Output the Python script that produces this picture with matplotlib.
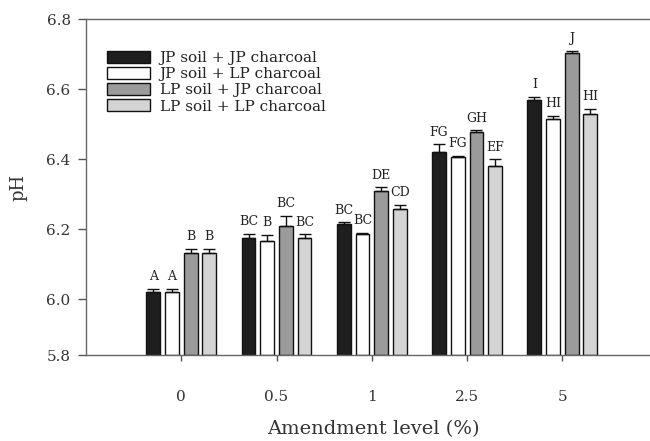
import matplotlib.pyplot as plt
import numpy as np

plt.rcParams['font.family'] = ['DejaVu Serif']

levels = ['0', '0.5', '1', '2.5', '5']
series = ['JP soil + JP charcoal', 'JP soil + LP charcoal',
          'LP soil + JP charcoal', 'LP soil + LP charcoal']

jp_jp = [6.020, 6.174, 6.214, 6.421, 6.571]
jp_lp = [6.020, 6.166, 6.186, 6.408, 6.514]
lp_jp = [6.133, 6.210, 6.310, 6.477, 6.705]
lp_lp = [6.133, 6.175, 6.259, 6.380, 6.530]

err_jp_jp = [0.011, 0.014, 0.006, 0.022, 0.008]
err_jp_lp = [0.010, 0.019, 0.005, 0.002, 0.010]
err_lp_jp = [0.012, 0.029, 0.010, 0.006, 0.006]
err_lp_lp = [0.012, 0.011, 0.012, 0.020, 0.014]

letters_jp_jp = ['A', 'BC', 'BC', 'FG', 'I']
letters_jp_lp = ['A', 'B', 'BC', 'FG', 'HI']
letters_lp_jp = ['B', 'BC', 'DE', 'GH', 'J']
letters_lp_lp = ['B', 'BC', 'CD', 'EF', 'HI']

means = [jp_jp, jp_lp, lp_jp, lp_lp]
errs = [err_jp_jp, err_jp_lp, err_lp_jp, err_lp_lp]
letters = [letters_jp_jp, letters_jp_lp, letters_lp_jp, letters_lp_lp]
colors = ['#1e1e1e', 'white', '#9b9b9b', '#d4d4d4']

fig = plt.figure(figsize=(6.5, 4.41), dpi=100)
ax = fig.add_axes([0.1323, 0.195, 0.8677, 0.761])

x = np.arange(len(levels))
width = 0.145
offsets = (np.arange(4) - 1.5) * 0.196

for i in range(4):
    xi = x + offsets[i]
    m = np.array(means[i])
    e = np.array(errs[i])
    ax.bar(xi, m - 5.841, width, bottom=5.841, color=colors[i],
           edgecolor='#111111', linewidth=1.0, label=series[i], zorder=2)
    ax.errorbar(xi, m, yerr=[np.zeros_like(e), e], fmt='none',
                ecolor='#111111', elinewidth=1.0, capsize=4.5, capthick=1.0, zorder=3)
    for xx, top, lab in zip(xi, m + e, letters[i]):
        ax.annotate(lab, (xx, top), xytext=(0, 4), textcoords='offset points',
                    ha='center', va='bottom', fontsize=9, color='#222222')

ax.set_xlim(-1.0, 4.92)
ax.set_ylim(5.841, 6.8)
ax.set_xticks(x)
ax.set_xticklabels(levels)
ax.set_yticks([5.841, 6.0, 6.2, 6.4, 6.6, 6.8])
ax.set_yticklabels(['5.8', '6.0', '6.2', '6.4', '6.6', '6.8'])
ax.tick_params(axis='both', direction='out', colors='#555555', labelcolor='#333333',
               labelsize=11, width=1.0)
ax.tick_params(axis='y', length=6, pad=5)
ax.tick_params(axis='x', length=4, pad=21)

for s in ['left', 'bottom', 'top']:
    ax.spines[s].set_color('#666666')
    ax.spines[s].set_linewidth(1.0)
ax.spines['right'].set_visible(False)

ax.set_xlabel('Amendment level (%)', fontsize=14, color='#333333')
ax.xaxis.set_label_coords(0.509, -0.195)
ax.set_ylabel('pH', fontsize=13, color='#333333', labelpad=14)

ax.legend(loc='upper left', bbox_to_anchor=(0.037, 0.906), frameon=False,
          fontsize=11, handlelength=2.8, handleheight=0.8, handletextpad=0.65,
          labelspacing=0.13, borderpad=0, borderaxespad=0, labelcolor='#222222')

fig.savefig('out.png', dpi=100)
